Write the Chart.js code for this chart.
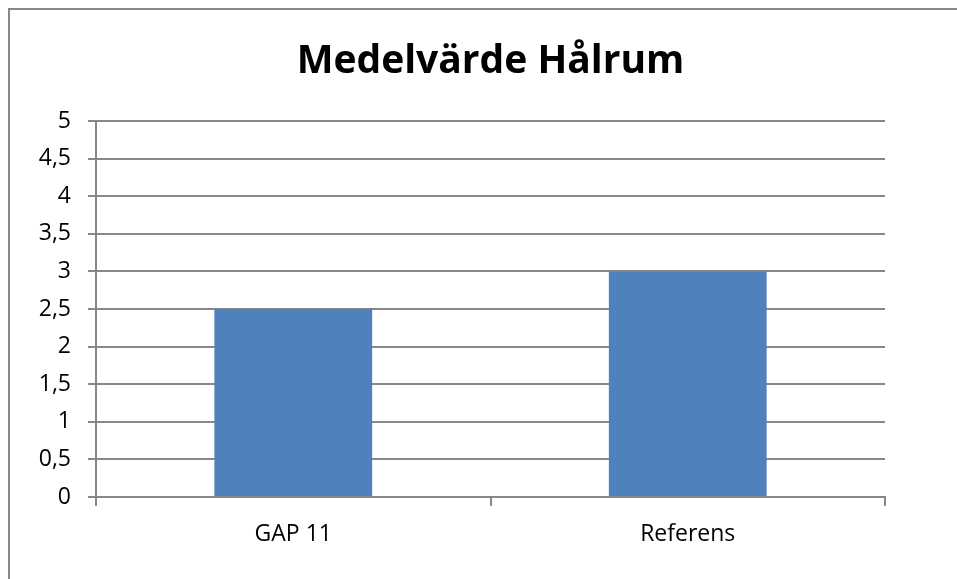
<!DOCTYPE html>
<html><head><meta charset="utf-8">
<script src="https://cdn.jsdelivr.net/npm/chart.js@4"></script>
<style>
html,body{margin:0;padding:0;background:#fff;}
#wrap{position:relative;width:957px;height:579px;overflow:hidden;}
#frame{position:absolute;left:8px;top:8px;right:-10px;bottom:-10px;border-left:2px solid #888;border-top:2px solid #888;pointer-events:none;}
canvas{position:absolute;left:0;top:0;}
</style></head>
<body><div id="wrap"><canvas id="c" width="957" height="579"></canvas><div id="frame"></div></div>
<script>
const titleText = "Medelvärde Hålrum";
const categories = ["GAP 11", "Referens"];
const values = [2.5, 3];
const yTicks = [0, 0.5, 1, 1.5, 2, 2.5, 3, 3.5, 4, 4.5, 5];

const FONT = "'Open Sans', sans-serif";
const centerTitle = {
  id: 'centerTitle',
  afterLayout(chart) {
    const t = chart.titleBlock;
    if (t) { t.left = chart.chartArea.left; t.right = chart.chartArea.right; }
  }
};
new Chart(document.getElementById('c'), {
  type: 'bar',
  data: { labels: categories, datasets: [{ data: values, backgroundColor: '#4F81BD', borderWidth: 0, categoryPercentage: 1, barPercentage: 0.4 }] },
  plugins: [centerTitle],
  options: {
    responsive: false, animation: false,
    layout: { padding: { left: 0, right: 72, top: 0, bottom: 0 } },
    plugins: {
      legend: { display: false }, tooltip: { enabled: false },
      title: { display: true, text: titleText, color: '#000',
        font: { family: FONT, size: 39, weight: 'bold', lineHeight: 1.2 },
        padding: { top: 38, bottom: 36.2 } }
    },
    scales: {
      x: {
        offset: true,
        grid: { offset: true, drawOnChartArea: false, drawTicks: true, tickLength: 9, color: '#888', lineWidth: 2 },
        border: { color: '#888', width: 2 },
        ticks: { color: '#000', font: { family: FONT, size: 23 }, padding: 15 },
        afterFit: s => { s.height = 82; }
      },
      y: {
        min: 0, max: 5,
        afterBuildTicks: s => { s.ticks = yTicks.map(v => ({ value: v })); },
        grid: { color: '#888', lineWidth: 2, tickLength: 8 },
        border: { color: '#888', width: 2 },
        ticks: { color: '#000', font: { family: FONT, size: 23 }, padding: 17,
          callback: v => String(v).replace('.', ',') },
        afterFit: s => { s.width = 96; }
      }
    }
  }
});
</script></body></html>
